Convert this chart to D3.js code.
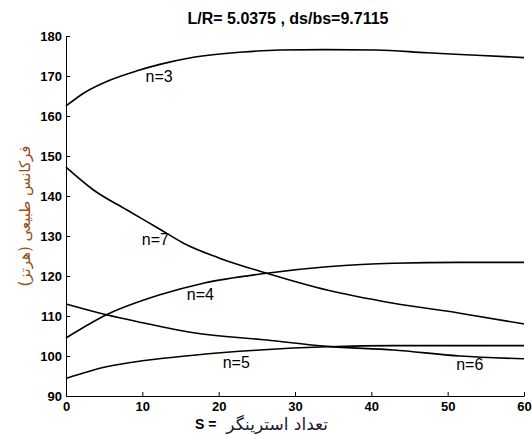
<!DOCTYPE html>
<html>
<head>
<meta charset="utf-8">
<script src="https://cdn.jsdelivr.net/npm/d3@7"></script>
<style>
  body { margin: 0; background: #fff; }
  .axis text { font-family: Arial, "Liberation Sans", sans-serif; font-weight: bold; font-size: 13px; fill: #000; }
  .axis path, .axis line { stroke: #000; stroke-width: 1; }
</style>
</head>
<body>
<svg id="chart" width="532" height="435"></svg>
<script>
// values: S (stringer count) vs natural frequency
var n3S = [0, 2.3, 5.8, 9.3, 12.3, 16.7, 23.2, 28, 34, 40.7, 47.3, 53.8, 60];
var n3F = [162.5, 165.7, 169, 171.3, 172.9, 174.7, 176, 176.5, 176.6, 176.5, 175.8, 175.2, 174.6];

var n7S = [0, 3.6, 8, 12.3, 15.4, 20.2, 26.3, 34.2, 42.9, 51.6, 60];
var n7F = [147.2, 141.5, 136.5, 131.7, 128.2, 124.4, 120.7, 116.5, 113.2, 110.7, 108];

var n4S = [0, 5.3, 12.3, 18, 26.3, 34.2, 42.9, 51.6, 60];
var n4F = [104.5, 110.3, 115.3, 118.2, 120.7, 122.3, 123.2, 123.4, 123.4];

var n6S = [0, 5.3, 10.1, 16.7, 26.3, 34.2, 42.9, 51.6, 60];
var n6F = [113, 110.3, 108.3, 105.8, 104, 102.4, 101.5, 100, 99.3];

var n5S = [0, 5.3, 10, 16.7, 25.4, 34.2, 42.9, 51.6, 60];
var n5F = [94.4, 97.3, 98.8, 100.2, 101.5, 102.3, 102.6, 102.6, 102.6];

var xTicks = [0, 10, 20, 30, 40, 50, 60];
var yTicks = [90, 100, 110, 120, 130, 140, 150, 160, 170, 180];

var labels = [
  { text: 'n=3', s: 12.2, f: 168.6 },
  { text: 'n=7', s: 11.7, f: 127.8 },
  { text: 'n=4', s: 17.6, f: 114 },
  { text: 'n=5', s: 22.3, f: 97 },
  { text: 'n=6', s: 52.9, f: 96.5 }
];

var svg = d3.select('#chart');
var x = d3.scaleLinear().domain([0, 60]).range([66, 524]);
var y = d3.scaleLinear().domain([90, 180]).range([396, 36]);

svg.append('g')
    .attr('class', 'axis')
    .attr('transform', 'translate(0,396)')
    .call(d3.axisBottom(x).tickValues(xTicks).tickSizeInner(-4).tickSizeOuter(0).tickPadding(6));

svg.append('g')
    .attr('class', 'axis')
    .attr('transform', 'translate(66,0)')
    .call(d3.axisLeft(y).tickValues(yTicks).tickSizeInner(-4).tickSizeOuter(0).tickPadding(4));

var line = d3.line()
    .x(function(d) { return x(d[0]); })
    .y(function(d) { return y(d[1]); })
    .curve(d3.curveMonotoneX);

[[n3S, n3F], [n7S, n7F], [n4S, n4F], [n6S, n6F], [n5S, n5F]].forEach(function(c) {
    svg.append('path')
        .datum(d3.zip(c[0], c[1]))
        .attr('d', line)
        .attr('fill', 'none')
        .attr('stroke', '#000')
        .attr('stroke-width', 1.6);
});

svg.selectAll('.lbl')
    .data(labels)
    .enter().append('text')
    .attr('class', 'lbl')
    .attr('x', function(d) { return x(d.s); })
    .attr('y', function(d) { return y(d.f); })
    .attr('text-anchor', 'middle')
    .style('font-family', 'Arial, "Liberation Sans", sans-serif')
    .style('font-size', '16px')
    .text(function(d) { return d.text; });

// title
svg.append('text')
    .attr('x', 288)
    .attr('y', 24)
    .attr('text-anchor', 'middle')
    .style('font-family', 'Arial, "Liberation Sans", sans-serif')
    .style('font-weight', 'bold')
    .style('font-size', '16px')
    .text('L/R= 5.0375 , ds/bs=9.7115');

// x label
svg.append('text')
    .attr('x', 195)
    .attr('y', 429)
    .style('font-family', 'Arial, "Liberation Sans", sans-serif')
    .style('font-weight', 'bold')
    .style('font-size', '14px')
    .text('S =');

svg.append('text')
    .attr('x', 328)
    .attr('y', 430)
    .attr('text-anchor', 'end')
    .style('font-family', '"DejaVu Sans", sans-serif')
    .style('font-size', '17px')
    .style('fill', '#1a1a30')
    .text('تعداد استرینگر');

// y label
svg.append('text')
    .attr('transform', 'translate(30,216) rotate(-90)')
    .attr('text-anchor', 'middle')
    .style('font-family', '"DejaVu Sans", sans-serif')
    .style('font-size', '15px')
    .style('fill', '#9a5020')
    .text('فرکانس طبیعی (هرتز)');
</script>
</body>
</html>
